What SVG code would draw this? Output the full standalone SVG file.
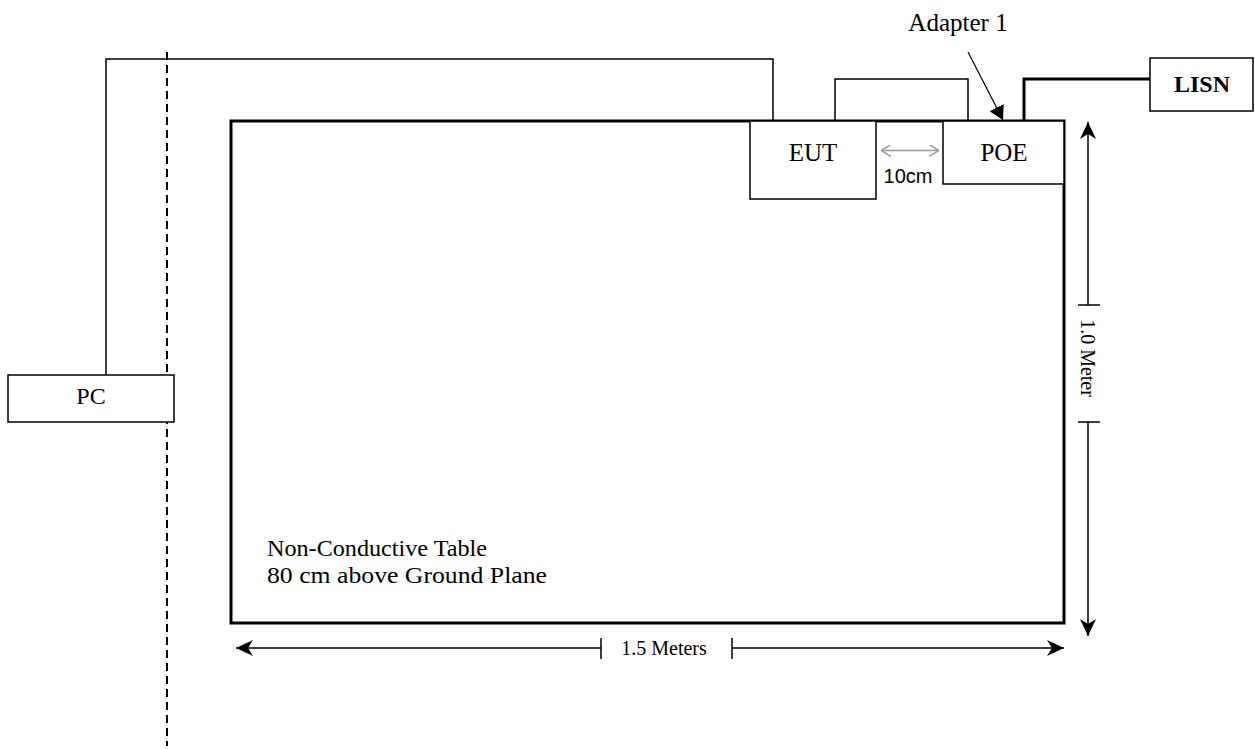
<svg xmlns="http://www.w3.org/2000/svg" width="1255" height="749" viewBox="0 0 1255 749">
<style>
.box{fill:#fff;stroke:#000;stroke-width:1.5}
.t{font-family:"Liberation Serif","Times New Roman",serif;font-size:24px;fill:#000}
.t25{font-size:25px}
.t20{font-size:20px}
.w{fill:none;stroke:#000;stroke-width:1.5}
.dim{fill:none;stroke:#000;stroke-width:1.5}
</style>
<defs>
<marker id="ah" viewBox="0 0 18 18" refX="17" refY="9" markerWidth="18" markerHeight="18" markerUnits="userSpaceOnUse" orient="auto-start-reverse">
<path d="M0,1 L17,9 L0,17 L5,9 Z" fill="#000"/>
</marker>
<marker id="ga" viewBox="0 0 10 12" refX="10" refY="6" markerWidth="10" markerHeight="12" markerUnits="userSpaceOnUse" orient="auto-start-reverse">
<path d="M0,0 L10,6 L0,12" fill="none" stroke="#999" stroke-width="1.5"/>
</marker>
<marker id="fa" viewBox="0 0 14 16" refX="14" refY="8" markerWidth="14" markerHeight="16" markerUnits="userSpaceOnUse" orient="auto">
<path d="M0,0 L14,8 L0,16 Z" fill="#000"/>
</marker>
</defs>
<rect width="1255" height="749" fill="#fff"/>
<g id="table">
<rect x="231" y="121" width="833" height="502" fill="none" stroke="#000" stroke-width="3"/>
<text class="t" x="267" y="556" textLength="220" lengthAdjust="spacingAndGlyphs">Non-Conductive Table</text>
<text class="t" x="267" y="583" textLength="280" lengthAdjust="spacingAndGlyphs">80 cm above Ground Plane</text>
</g>
<g id="connectors">
<path class="w" d="M106,375 V59 H773 V121"/>
<path class="w" d="M835,121 V79 H968 V121"/>
<path d="M1024,121 V79 H1150" fill="none" stroke="#000" stroke-width="3"/>
<line x1="167" y1="52" x2="167" y2="746" stroke="#000" stroke-width="2" stroke-dasharray="8,5"/>
<line x1="968" y1="52" x2="1003" y2="120" stroke="#000" stroke-width="1.2" marker-end="url(#fa)"/>
<line x1="881" y1="150.5" x2="939" y2="150.5" stroke="#999" stroke-width="1.5" marker-start="url(#ga)" marker-end="url(#ga)"/>
</g>
<g id="eut">
<rect class="box" x="750" y="121" width="126" height="78"/>
<text class="t t25" x="813" y="161" text-anchor="middle">EUT</text>
</g>
<g id="poe">
<rect class="box" x="943" y="121" width="121" height="63"/>
<text class="t t25" x="1004" y="161" text-anchor="middle">POE</text>
</g>
<g id="lisn">
<rect class="box" x="1150" y="58" width="103" height="53"/>
<text class="t" x="1202" y="92" text-anchor="middle" font-weight="bold">LISN</text>
</g>
<g id="pc">
<rect class="box" x="8" y="375" width="166" height="47"/>
<text class="t" x="91" y="404" text-anchor="middle">PC</text>
</g>
<g id="labels">
<text class="t t25" x="958" y="31" text-anchor="middle">Adapter 1</text>
<text x="908" y="183" text-anchor="middle" font-family="'Liberation Sans',Arial,sans-serif" font-size="20">10cm</text>
</g>
<g id="dimensions">
<line class="dim" x1="601" y1="648" x2="236" y2="648" marker-end="url(#ah)"/>
<line class="dim" x1="732" y1="648" x2="1064" y2="648" marker-end="url(#ah)"/>
<line class="dim" x1="601" y1="638" x2="601" y2="659"/>
<line class="dim" x1="732" y1="638" x2="732" y2="659"/>
<text class="t t20" x="664" y="655" text-anchor="middle">1.5 Meters</text>
<line class="dim" x1="1088" y1="305" x2="1088" y2="122" marker-end="url(#ah)"/>
<line class="dim" x1="1088" y1="422" x2="1088" y2="636" marker-end="url(#ah)"/>
<line class="dim" x1="1078" y1="305" x2="1100" y2="305"/>
<line class="dim" x1="1078" y1="422" x2="1100" y2="422"/>
<text class="t t20" transform="translate(1081,358) rotate(90)" x="0" y="0" text-anchor="middle">1.0 Meter</text>
</g>
</svg>
